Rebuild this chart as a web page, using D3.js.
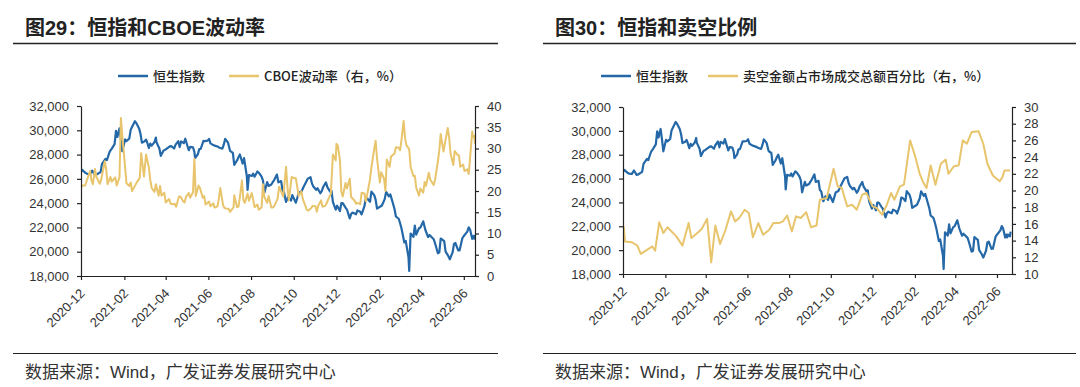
<!DOCTYPE html>
<html>
<head>
<meta charset="utf-8">
<script src="https://cdn.jsdelivr.net/npm/d3@7"></script>
<style>
  body { margin: 0; background: #fff; }
  svg text { font-family: "Liberation Sans", Arial, "Noto Sans CJK SC", sans-serif; }
</style>
</head>
<body>
<script>
// Hang Seng index (approx. closes)
const hsi = [
  ["2020-12-01",26568],["2020-12-03",26728],["2020-12-07",26507],["2020-12-10",26410],["2020-12-14",26389],
  ["2020-12-17",26678],["2020-12-21",26306],["2020-12-23",26343],["2020-12-29",26568],["2020-12-31",27231],
  ["2021-01-05",27649],["2021-01-07",27548],["2021-01-11",28246],["2021-01-14",28496],["2021-01-18",28862],
  ["2021-01-20",29962],["2021-01-22",29447],["2021-01-25",30159],["2021-01-27",29297],["2021-01-29",28284],
  ["2021-02-02",29249],["2021-02-04",29114],["2021-02-08",29319],["2021-02-10",30038],["2021-02-16",30746],
  ["2021-02-18",30595],["2021-02-22",30156],["2021-02-24",29718],["2021-02-26",28980],["2021-03-02",29095],
  ["2021-03-04",29236],["2021-03-05",29098],["2021-03-08",28540],["2021-03-10",28907],["2021-03-12",28739],
  ["2021-03-16",29027],["2021-03-18",29405],["2021-03-19",28990],["2021-03-23",28497],["2021-03-25",27899],
  ["2021-03-29",28338],["2021-03-31",28378],["2021-04-07",28674],["2021-04-09",28699],["2021-04-13",28497],
  ["2021-04-15",28793],["2021-04-19",29106],["2021-04-21",28621],["2021-04-23",29078],["2021-04-27",28941],
  ["2021-04-29",29303],["2021-05-04",28357],["2021-05-06",28637],["2021-05-10",28595],["2021-05-12",28231],
  ["2021-05-13",27718],["2021-05-17",28027],["2021-05-19",28450],["2021-05-21",28458],["2021-05-25",29124],
  ["2021-05-27",29113],["2021-05-31",29151],["2021-06-02",29297],["2021-06-04",28918],["2021-06-08",28781],
  ["2021-06-10",28738],["2021-06-15",28638],["2021-06-17",28558],["2021-06-21",28489],["2021-06-23",28817],
  ["2021-06-25",29288],["2021-06-29",28995],["2021-07-02",28310],["2021-07-06",28143],["2021-07-08",27154],
  ["2021-07-12",27515],["2021-07-14",27787],["2021-07-16",28004],["2021-07-20",27259],["2021-07-22",27705],
  ["2021-07-26",26192],["2021-07-27",25086],["2021-07-29",26315],["2021-08-02",26235],["2021-08-04",26426],
  ["2021-08-06",26179],["2021-08-10",26605],["2021-08-12",26517],["2021-08-16",26181],["2021-08-18",25867],
  ["2021-08-20",24849],["2021-08-24",25727],["2021-08-26",25415],["2021-08-30",25539],["2021-09-01",25725],
  ["2021-09-03",25901],["2021-09-07",26353],["2021-09-09",25716],["2021-09-13",25813],["2021-09-15",25034],
  ["2021-09-17",24920],["2021-09-20",24100],["2021-09-23",24510],["2021-09-27",24208],["2021-09-29",24663],
  ["2021-10-04",24036],["2021-10-06",24420],["2021-10-08",24838],["2021-10-12",24962],["2021-10-15",25330],
  ["2021-10-19",25787],["2021-10-21",26018],["2021-10-25",26132],["2021-10-27",25628],["2021-10-29",25377],
  ["2021-11-02",25100],["2021-11-04",25225],["2021-11-08",24813],["2021-11-10",24996],["2021-11-12",25328],
  ["2021-11-16",25713],["2021-11-18",25319],["2021-11-22",24951],["2021-11-24",25018],["2021-11-26",24080],
  ["2021-11-30",23475],["2021-12-02",23789],["2021-12-06",23349],["2021-12-08",23996],["2021-12-10",23996],
  ["2021-12-14",23636],["2021-12-16",23475],["2021-12-20",22744],["2021-12-22",23102],["2021-12-24",23224],
  ["2021-12-29",23086],["2021-12-31",23397],["2022-01-04",23289],["2022-01-06",23073],["2022-01-10",23747],
  ["2022-01-12",24402],["2022-01-14",24383],["2022-01-18",24113],["2022-01-20",24952],["2022-01-24",24656],
  ["2022-01-26",24289],["2022-01-28",23550],["2022-02-04",23802],["2022-02-08",24329],["2022-02-10",24925],
  ["2022-02-14",24556],["2022-02-16",24718],["2022-02-18",24327],["2022-02-22",23520],["2022-02-24",22902],
  ["2022-02-28",22713],["2022-03-02",22343],["2022-03-04",21906],["2022-03-08",20766],["2022-03-10",20890],
  ["2022-03-14",19532],["2022-03-15",18415],["2022-03-16",20087],["2022-03-17",21502],["2022-03-21",21222],
  ["2022-03-23",22154],["2022-03-25",21405],["2022-03-29",21927],["2022-03-31",21997],["2022-04-04",22502],
  ["2022-04-07",21808],["2022-04-11",21208],["2022-04-13",21374],["2022-04-19",21027],["2022-04-21",20682],
  ["2022-04-25",19870],["2022-04-27",19946],["2022-04-29",21089],["2022-05-04",20870],["2022-05-06",20001],
  ["2022-05-10",19633],["2022-05-12",19380],["2022-05-16",19950],["2022-05-18",20644],["2022-05-20",20717],
  ["2022-05-24",20112],["2022-05-26",20116],["2022-05-30",21124],["2022-06-01",21294],["2022-06-06",21653],
  ["2022-06-08",22014],["2022-06-10",21806],["2022-06-13",21067],["2022-06-15",21308],["2022-06-16",21075],
  ["2022-06-17",21300],["2022-06-20",21163],["2022-06-21",21559]
];

// CBOE volatility index (right axis, %)
const vix = [
  ["2020-12-01",20.8],["2020-12-03",21.3],["2020-12-07",21.3],["2020-12-09",22.3],["2020-12-11",23.3],
  ["2020-12-14",24.7],["2020-12-16",22.5],["2020-12-18",21.6],["2020-12-21",25.2],["2020-12-23",23.3],
  ["2020-12-28",21.7],["2020-12-30",22.8],["2021-01-04",27.0],["2021-01-06",25.1],["2021-01-08",21.6],
  ["2021-01-12",23.3],["2021-01-14",22.2],["2021-01-19",23.2],["2021-01-21",21.3],["2021-01-25",23.2],
  ["2021-01-27",37.2],["2021-01-29",33.1],["2021-02-02",25.6],["2021-02-04",21.8],["2021-02-08",21.2],
  ["2021-02-10",22.0],["2021-02-12",20.0],["2021-02-17",21.5],["2021-02-19",22.1],["2021-02-23",23.1],
  ["2021-02-25",28.9],["2021-03-01",23.4],["2021-03-04",28.6],["2021-03-08",25.5],["2021-03-10",22.6],
  ["2021-03-12",20.7],["2021-03-16",19.8],["2021-03-18",21.6],["2021-03-22",18.9],["2021-03-24",21.2],
  ["2021-03-26",18.9],["2021-03-30",19.6],["2021-04-01",17.3],["2021-04-06",18.1],["2021-04-08",17.0],
  ["2021-04-12",16.9],["2021-04-14",17.0],["2021-04-16",16.3],["2021-04-20",18.7],["2021-04-22",18.7],
  ["2021-04-26",17.6],["2021-04-28",17.3],["2021-04-30",18.6],["2021-05-04",19.5],["2021-05-06",18.4],
  ["2021-05-10",19.7],["2021-05-12",27.6],["2021-05-14",18.8],["2021-05-18",21.3],["2021-05-20",20.7],
  ["2021-05-24",18.4],["2021-05-26",18.8],["2021-05-28",16.8],["2021-06-02",17.5],["2021-06-04",16.4],
  ["2021-06-08",17.1],["2021-06-10",16.1],["2021-06-14",16.4],["2021-06-16",18.2],["2021-06-18",20.7],
  ["2021-06-22",16.7],["2021-06-24",16.0],["2021-06-28",15.8],["2021-06-30",15.8],["2021-07-02",15.1],
  ["2021-07-07",16.2],["2021-07-08",19.0],["2021-07-12",16.2],["2021-07-14",16.3],["2021-07-16",18.5],
  ["2021-07-19",22.5],["2021-07-21",17.9],["2021-07-23",17.2],["2021-07-27",19.4],["2021-07-29",17.7],
  ["2021-08-02",19.5],["2021-08-04",18.0],["2021-08-06",16.2],["2021-08-10",16.8],["2021-08-12",15.6],
  ["2021-08-16",16.1],["2021-08-18",21.6],["2021-08-20",18.6],["2021-08-24",17.2],["2021-08-26",18.8],
  ["2021-08-30",16.1],["2021-09-01",16.1],["2021-09-03",16.4],["2021-09-08",18.2],["2021-09-10",21.0],
  ["2021-09-14",19.5],["2021-09-16",18.7],["2021-09-20",25.7],["2021-09-22",20.9],["2021-09-24",17.8],
  ["2021-09-28",23.3],["2021-09-30",23.1],["2021-10-04",23.0],["2021-10-06",21.0],["2021-10-08",18.8],
  ["2021-10-12",19.9],["2021-10-14",18.1],["2021-10-18",16.3],["2021-10-20",15.5],["2021-10-22",15.4],
  ["2021-10-26",16.0],["2021-10-28",16.5],["2021-11-01",16.4],["2021-11-03",15.1],["2021-11-05",16.5],
  ["2021-11-09",17.8],["2021-11-11",16.3],["2021-11-15",16.5],["2021-11-17",17.1],["2021-11-19",17.9],
  ["2021-11-23",19.4],["2021-11-26",28.6],["2021-11-30",27.2],["2021-12-01",31.1],["2021-12-03",30.7],
  ["2021-12-06",27.2],["2021-12-08",19.9],["2021-12-10",18.7],["2021-12-14",21.9],["2021-12-16",20.6],
  ["2021-12-20",22.9],["2021-12-22",18.6],["2021-12-27",17.7],["2021-12-29",17.0],["2021-12-31",17.2],
  ["2022-01-04",16.9],["2022-01-06",19.6],["2022-01-10",19.4],["2022-01-12",17.6],["2022-01-14",19.2],
  ["2022-01-18",22.8],["2022-01-20",25.6],["2022-01-24",29.9],["2022-01-26",31.8],["2022-01-28",27.7],
  ["2022-02-01",22.0],["2022-02-03",24.4],["2022-02-07",22.9],["2022-02-09",20.0],["2022-02-11",27.4],
  ["2022-02-15",25.7],["2022-02-17",28.1],["2022-02-22",28.8],["2022-02-24",30.3],["2022-02-28",30.2],
  ["2022-03-02",29.6],["2022-03-04",32.0],["2022-03-07",36.5],["2022-03-09",32.5],["2022-03-11",30.8],
  ["2022-03-15",29.8],["2022-03-17",25.7],["2022-03-21",23.5],["2022-03-23",23.6],["2022-03-25",20.8],
  ["2022-03-29",18.9],["2022-03-31",20.6],["2022-04-04",19.6],["2022-04-06",22.1],["2022-04-08",21.2],
  ["2022-04-12",24.3],["2022-04-14",22.7],["2022-04-19",21.4],["2022-04-21",22.7],["2022-04-25",27.0],
  ["2022-04-27",29.6],["2022-04-29",33.4],["2022-05-03",29.3],["2022-05-05",31.2],["2022-05-09",34.8],
  ["2022-05-11",32.6],["2022-05-13",28.9],["2022-05-17",26.1],["2022-05-19",29.4],["2022-05-23",28.5],
  ["2022-05-25",28.4],["2022-05-27",25.7],["2022-05-31",26.2],["2022-06-02",24.7],["2022-06-06",25.1],
  ["2022-06-08",24.0],["2022-06-10",27.8],["2022-06-13",34.0],["2022-06-14",32.7],["2022-06-16",33.0],
  ["2022-06-17",31.1]
];

// short selling turnover as % of market turnover (right axis, %)
const shortRatio = [
  ["2020-12-02",15.7],["2020-12-04",13.9],["2020-12-14",13.8],["2020-12-22",13.4],["2020-12-27",12.4],
  ["2021-01-13",13.3],["2021-01-17",12.8],["2021-01-23",16.2],["2021-01-29",14.9],["2021-02-04",15.6],
  ["2021-02-17",14.5],["2021-02-26",13.4],["2021-03-07",16.1],["2021-03-11",14.3],["2021-03-21",15.0],
  ["2021-03-26",15.4],["2021-04-03",16.6],["2021-04-09",11.4],["2021-04-15",15.8],["2021-04-22",13.6],
  ["2021-04-30",15.3],["2021-05-08",17.5],["2021-05-14",16.3],["2021-05-20",16.7],["2021-05-28",17.7],
  ["2021-06-03",17.3],["2021-06-09",14.4],["2021-06-17",16.1],["2021-06-24",14.7],["2021-07-03",15.3],
  ["2021-07-09",16.1],["2021-07-17",16.1],["2021-07-23",16.3],["2021-07-29",17.0],["2021-08-05",15.1],
  ["2021-08-11",16.9],["2021-08-18",16.7],["2021-08-26",17.4],["2021-09-02",15.6],["2021-09-10",15.8],
  ["2021-09-15",18.9],["2021-09-25",19.1],["2021-10-05",22.6],["2021-10-11",20.5],["2021-10-17",20.3],
  ["2021-10-25",18.1],["2021-11-01",18.3],["2021-11-08",17.7],["2021-11-16",19.5],["2021-11-22",19.7],
  ["2021-12-01",18.1],["2021-12-07",17.9],["2021-12-15",17.1],["2021-12-22",18.3],["2021-12-28",19.7],
  ["2022-01-02",18.9],["2022-01-10",20.5],["2022-01-16",20.7],["2022-01-25",26.0],["2022-02-01",24.2],
  ["2022-02-08",22.0],["2022-02-13",21.0],["2022-02-18",20.3],["2022-02-24",23.0],["2022-03-03",20.7],
  ["2022-03-11",23.2],["2022-03-18",23.7],["2022-03-22",22.0],["2022-03-30",22.9],["2022-04-06",23.0],
  ["2022-04-12",26.0],["2022-04-18",25.6],["2022-04-25",27.0],["2022-05-05",27.1],["2022-05-12",25.6],
  ["2022-05-18",23.2],["2022-05-26",21.8],["2022-06-05",21.1],["2022-06-09",21.6],["2022-06-12",22.4],
  ["2022-06-20",22.4]
];

const hsiTicks = [18000, 20000, 22000, 24000, 26000, 28000, 30000, 32000];
const vixTicks = [0, 5, 10, 15, 20, 25, 30, 35, 40];
const shortTicks = [10, 12, 14, 16, 18, 20, 22, 24, 26, 28, 30];
const monthTicks = ["2020-12", "2021-02", "2021-04", "2021-06", "2021-08", "2021-10",
                    "2021-12", "2022-02", "2022-04", "2022-06"];

const blue = "#2468a8";
const yellow = "#e8c56c";
const ink = "#222";

const parseDay = d3.timeParse("%Y-%m-%d");
const parseMonth = d3.timeParse("%Y-%m");
const toRows = arr => arr.map(d => ({ date: parseDay(d[0]), v: d[1] }));

const svg = d3.select("body").append("svg")
    .attr("width", 1080)
    .attr("height", 387);

function panel(p) {
    const g = svg.append("g");

    // title + rules
    g.append("text")
        .attr("x", p.titleX).attr("y", 35)
        .attr("font-size", 20).attr("font-weight", "bold")
        .attr("fill", ink)
        .text(p.title);

    g.append("line")
        .attr("x1", p.ruleX0).attr("x2", p.ruleX1)
        .attr("y1", 43.5).attr("y2", 43.5)
        .attr("stroke", ink).attr("stroke-width", 1.5);

    g.append("line")
        .attr("x1", p.ruleX0).attr("x2", p.ruleX1)
        .attr("y1", 353.5).attr("y2", 353.5)
        .attr("stroke", ink).attr("stroke-width", 1.2);

    g.append("text")
        .attr("x", p.titleX).attr("y", 378)
        .attr("font-size", 17).attr("fill", "#333")
        .text("数据来源：Wind，广发证券发展研究中心");

    // legend
    p.legend.forEach(function (l) {
        g.append("line")
            .attr("x1", l.x).attr("x2", l.x + 30)
            .attr("y1", 76).attr("y2", 76)
            .attr("stroke", l.color).attr("stroke-width", 2.5);
        g.append("text")
            .attr("x", l.x + 35).attr("y", 80.5)
            .attr("font-size", 13).attr("font-weight", 500).attr("fill", ink)
            .style("font-family", "'Noto Sans CJK SC', sans-serif")
            .text(l.label);
    });

    // scales
    const x = d3.scaleTime()
        .domain([parseDay("2020-12-01"), parseDay(p.end)])
        .range([p.left, p.right]);

    const yL = d3.scaleLinear()
        .domain([18000, 32000])
        .range([p.bottom, p.top]);

    const yR = d3.scaleLinear()
        .domain(d3.extent(p.rTicks))
        .range([p.bottom, p.top]);

    const clipId = "clip" + p.id;
    svg.append("clipPath").attr("id", clipId)
        .append("rect")
        .attr("x", p.left).attr("y", p.top - 5)
        .attr("width", p.right - p.left).attr("height", p.bottom - p.top + 10);

    const lineL = d3.line().x(d => x(d.date)).y(d => yL(d.v));
    const lineR = d3.line().x(d => x(d.date)).y(d => yR(d.v));

    const plot = g.append("g").attr("clip-path", "url(#" + clipId + ")");

    plot.append("path")
        .datum(toRows(hsi))
        .attr("d", lineL)
        .attr("fill", "none")
        .attr("stroke", blue)
        .attr("stroke-width", 2.2)
        .attr("stroke-linejoin", "round");

    plot.append("path")
        .datum(toRows(p.rData))
        .attr("d", lineR)
        .attr("fill", "none")
        .attr("stroke", yellow)
        .attr("stroke-width", 2)
        .attr("stroke-linejoin", "round");

    // axes
    const styleAxis = function (sel) {
        sel.attr("font-size", 13)
            .attr("font-family", "'Liberation Sans', Arial, sans-serif");
        sel.selectAll("path, line").attr("stroke", ink).attr("stroke-width", 1.2);
        sel.selectAll("text").attr("fill", "#333");
    };

    g.append("g")
        .attr("transform", "translate(" + p.left + ",0)")
        .call(d3.axisLeft(yL).tickValues(hsiTicks).tickFormat(d3.format(","))
            .tickSize(4).tickSizeOuter(0).tickPadding(8))
        .call(styleAxis);

    g.append("g")
        .attr("transform", "translate(" + p.right + ",0)")
        .call(d3.axisRight(yR).tickValues(p.rTicks)
            .tickSize(4).tickSizeOuter(0).tickPadding(8))
        .call(styleAxis);

    g.append("g")
        .attr("transform", "translate(0," + p.bottom + ")")
        .call(d3.axisBottom(x).tickValues(monthTicks.map(parseMonth))
            .tickFormat(d3.timeFormat("%Y-%m"))
            .tickSize(4).tickSizeOuter(0))
        .call(styleAxis)
        .selectAll("text")
        .attr("x", 0).attr("y", 0).attr("dy", "0.35em")
        .attr("text-anchor", "end")
        .attr("transform", "translate(1,15) rotate(-45)");
}

panel({
    id: 1,
    title: "图29：恒指和CBOE波动率",
    titleX: 25, ruleX0: 13, ruleX1: 498,
    left: 81, right: 475, top: 106, bottom: 276,
    end: "2022-06-17",
    rData: vix, rTicks: vixTicks,
    legend: [
        { x: 118, color: blue, label: "恒生指数" },
        { x: 229, color: yellow, label: "CBOE波动率（右，%）" }
    ]
});

panel({
    id: 2,
    title: "图30：恒指和卖空比例",
    titleX: 555, ruleX0: 543, ruleX1: 1076,
    left: 623, right: 1012, top: 107, bottom: 274,
    end: "2022-06-23",
    rData: shortRatio, rTicks: shortTicks,
    legend: [
        { x: 601, color: blue, label: "恒生指数" },
        { x: 708, color: yellow, label: "卖空金额占市场成交总额百分比（右，%）" }
    ]
});
</script>
</body>
</html>
